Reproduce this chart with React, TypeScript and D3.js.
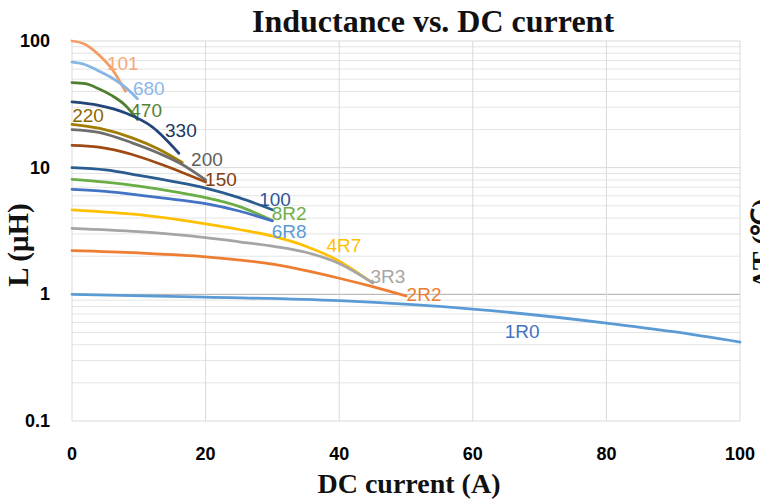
import React from "react";
import * as d3 from "d3";

const W = 760;
const H = 501;

const xTicks = [0, 20, 40, 60, 80, 100];
const yTicks = [0.1, 1, 10, 100];
const yTickLabels = ["0.1", "1", "10", "100"];

const seriesNames = ["101", "680", "470", "330", "220", "200", "150", "100", "8R2", "6R8", "4R7", "3R3", "2R2", "1R0"];
const lineColors = ["#F59B64", "#86B6E6", "#4E7F2E", "#22457A", "#A07C00", "#6E6E6E", "#9E4A14", "#2B5C91", "#6AAE45", "#4472C4", "#FFC000", "#A5A5A5", "#ED7D31", "#5B9BD5"];
const labelColors = ["#F6A878", "#8DB8E6", "#548235", "#203864", "#8A6A00", "#5E5E5E", "#843C0C", "#2F5597", "#70AD47", "#5B9BD5", "#FFC000", "#A5A5A5", "#ED7D31", "#4472C4"];

// [DC current (A), L (uH)]
const s101: [number, number][] = [[0, 100], [2, 94], [4, 78], [6, 60], [8, 40]];
const s680: [number, number][] = [[0, 68], [2, 65], [4, 58], [6, 51], [8, 43], [9.8, 35]];
const s470: [number, number][] = [[0, 47], [2, 46], [4, 42], [6, 37], [8, 31], [9.8, 24]];
const s330: [number, number][] = [[0, 33], [4, 31], [8, 27], [12, 21], [16, 13]];
const s220: [number, number][] = [[0, 22], [4, 20.5], [9, 17.2], [13, 14], [16.5, 11]];
const s200: [number, number][] = [[0, 20], [4, 19], [9, 15.7], [13, 13], [16.5, 10.6], [20, 8]];
const s150: [number, number][] = [[0, 15], [4, 14.5], [9, 12.7], [14, 10.3], [20, 7.7]];
const s100: [number, number][] = [[0, 10], [5, 9.6], [10, 8.7], [15, 7.8], [20, 6.9], [25, 5.8], [30, 4.65]];
const s8R2: [number, number][] = [[0, 8.1], [5, 7.7], [10, 7.15], [15, 6.5], [20, 5.8], [25, 4.95], [30, 3.82]];
const s6R8: [number, number][] = [[0, 6.75], [5, 6.5], [10, 6.08], [15, 5.65], [20, 5.2], [25, 4.55], [30, 3.8]];
const s4R7: [number, number][] = [[0, 4.65], [10, 4.25], [20, 3.6], [25, 3.25], [30, 2.88], [35, 2.4], [40, 1.83], [45, 1.23]];
const s3R3: [number, number][] = [[0, 3.32], [10, 3.12], [20, 2.8], [25, 2.6], [30, 2.4], [35, 2.15], [40, 1.75], [45, 1.23]];
const s2R2: [number, number][] = [[0, 2.21], [10, 2.12], [20, 1.98], [30, 1.73], [40, 1.34], [45, 1.15], [50, 0.97]];
const s1R0: [number, number][] = [[0, 1.0], [20, 0.95], [40, 0.89], [60, 0.765], [80, 0.593], [90, 0.507], [100, 0.42]];

const seriesData = [s101, s680, s470, s330, s220, s200, s150, s100, s8R2, s6R8, s4R7, s3R3, s2R2, s1R0];

// label anchor positions in data units [current, L]
const labelPos: [number, number][] = [
  [7.6, 66], [11.5, 42], [11.1, 28.5], [16.3, 19.8], [2.4, 26], [20.2, 11.5], [22.3, 8],
  [30.4, 5.6], [32.5, 4.34], [32.5, 3.13], [40.7, 2.41], [47.3, 1.39], [52.7, 1.0], [67.4, 0.505],
];

export default function App() {
  const x = d3.scaleLinear().domain([0, 100]).range([72, 740]);
  const y = d3.scaleLog().domain([0.1, 100]).range([421, 41]);

  const minor: number[] = [];
  [0.1, 1, 10].forEach((d) => {
    for (let k = 2; k <= 9; k++) minor.push(d * k);
  });

  const line = d3
    .line<[number, number]>()
    .x((d) => x(d[0]))
    .y((d) => y(d[1]))
    .curve(d3.curveMonotoneX);

  const serif = "'Liberation Serif', 'Times New Roman', serif";
  const sans = "'Liberation Sans', Arial, sans-serif";

  return (
    <svg width={W} height={H} style={{ position: "absolute", left: 0, top: 0, background: "#fff" }}>
      <rect x={0} y={0} width={W} height={H} fill="#fff" />
      {minor.map((v, i) => (
        <line key={"m" + i} x1={x(0)} x2={x(100)} y1={y(v)} y2={y(v)} stroke="#e4e4e4" strokeWidth={1} />
      ))}
      {yTicks.map((v, i) => (
        <line key={"h" + i} x1={x(0)} x2={x(100)} y1={y(v)} y2={y(v)} stroke={v === 1 ? "#ababab" : "#d9d9d9"} strokeWidth={1} />
      ))}
      {xTicks.map((v, i) => (
        <line key={"v" + i} x1={x(v)} x2={x(v)} y1={y(100)} y2={y(0.1)} stroke="#d9d9d9" strokeWidth={1} />
      ))}

      {seriesData.map((s, i) => (
        <path key={"s" + i} d={line(s) || ""} fill="none" stroke={lineColors[i]} strokeWidth={2.75} strokeLinecap="round" />
      ))}

      {seriesNames.map((n, i) => (
        <text
          key={"l" + i}
          x={x(labelPos[i][0])}
          y={y(labelPos[i][1])}
          fill={labelColors[i]}
          fontFamily={sans}
          fontSize={19}
          textAnchor="middle"
          dominantBaseline="central"
        >
          {n}
        </text>
      ))}

      {yTicks.map((v, i) => (
        <text key={"yt" + i} x={50} y={y(v)} textAnchor="end" dominantBaseline="central" fontFamily={sans} fontWeight="bold" fontSize={18} fill="#000">
          {yTickLabels[i]}
        </text>
      ))}
      {xTicks.map((v, i) => (
        <text key={"xt" + i} x={x(v)} y={460} textAnchor="middle" fontFamily={sans} fontWeight="bold" fontSize={18} fill="#000">
          {v}
        </text>
      ))}

      <text x={433} y={32} textAnchor="middle" fontFamily={serif} fontWeight="bold" fontSize={32} fill="#111">
        Inductance vs. DC current
      </text>
      <text x={409} y={493} textAnchor="middle" fontFamily={serif} fontWeight="bold" fontSize={28} fill="#111">
        DC current (A)
      </text>
      <text transform="translate(28,245) rotate(-90)" textAnchor="middle" fontFamily={serif} fontWeight="bold" fontSize={29} fill="#111">
        L (μH)
      </text>
      <text transform="translate(771,243) rotate(-90)" textAnchor="middle" fontFamily={serif} fontWeight="bold" fontSize={28} fill="#111">
        ΔT (℃)
      </text>
    </svg>
  );
}
